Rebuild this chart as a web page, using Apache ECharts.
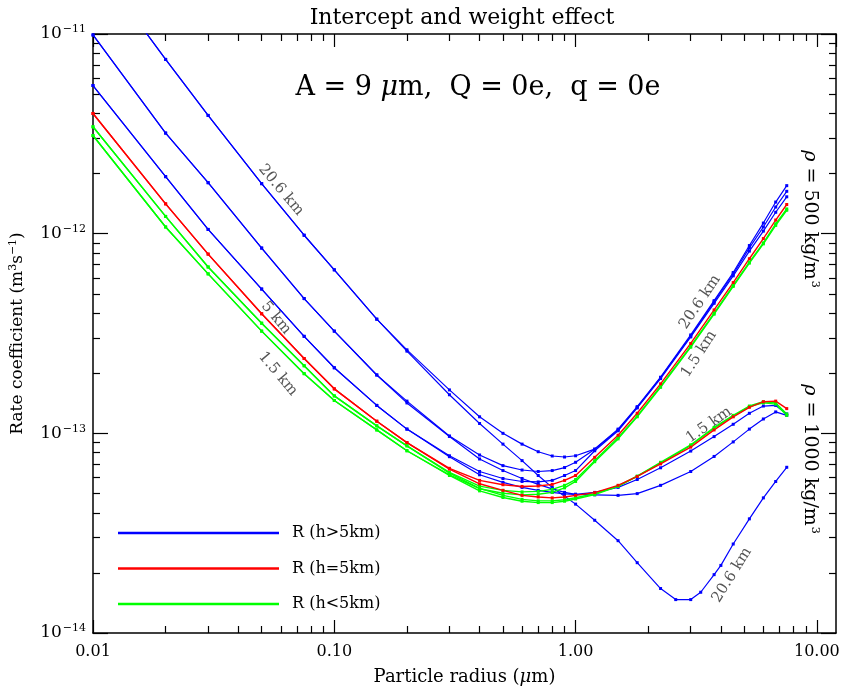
<!DOCTYPE html>
<html><head><meta charset="utf-8">
<script src="https://cdn.jsdelivr.net/npm/echarts@6/dist/echarts.min.js"></script>
<style>html,body{margin:0;padding:0;background:#fff}#c{width:843px;height:691px}</style>
</head><body><div id="c"></div>
<script>
// ---- data ----
const xGrid = [0.01,0.02,0.03,0.05,0.075,0.1,0.15,0.2,0.3,0.4,0.5,0.6,0.7,0.8,0.9,1.0,1.2,1.5,1.8,2.25,3,3.75,4.5,5.25,6,6.75,7.5];
const xGridH206Heavy = [0.01,0.02,0.03,0.05,0.075,0.1,0.15,0.2,0.3,0.4,0.5,0.6,0.7,0.8,0.9,1.0,1.2,1.5,1.8,2.25,2.6,3,3.3,3.75,4.0,4.5,5.25,6,6.75,7.5];

const h206_rho500 = [2.33e-11,7.46e-12,3.91e-12,1.78e-12,9.82e-13,6.59e-13,3.73e-13,2.62e-13,1.65e-13,1.21e-13,1.00e-13,8.83e-14,8.09e-14,7.70e-14,7.61e-14,7.72e-14,8.34e-14,1.05e-13,1.36e-13,1.91e-13,3.11e-13,4.62e-13,6.39e-13,8.72e-13,1.13e-12,1.44e-12,1.74e-12];
const h206_rho1000 = [2.33e-11,7.46e-12,3.91e-12,1.78e-12,9.82e-13,6.59e-13,3.73e-13,2.58e-13,1.56e-13,1.12e-13,8.83e-14,7.30e-14,6.15e-14,5.36e-14,4.84e-14,4.42e-14,3.67e-14,2.90e-14,2.25e-14,1.67e-14,1.47e-14,1.47e-14,1.60e-14,1.96e-14,2.18e-14,2.79e-14,3.73e-14,4.75e-14,5.74e-14,6.76e-14];
const hB2_rho500 = [9.89e-12,3.19e-12,1.80e-12,8.47e-13,4.73e-13,3.25e-13,1.96e-13,1.45e-13,9.70e-14,7.79e-14,6.89e-14,6.55e-14,6.44e-14,6.51e-14,6.74e-14,7.16e-14,8.32e-14,1.04e-13,1.35e-13,1.90e-13,3.07e-13,4.56e-13,6.28e-13,8.49e-13,1.08e-12,1.36e-12,1.63e-12];
const hB2_rho1000 = [9.89e-12,3.19e-12,1.80e-12,8.47e-13,4.73e-13,3.25e-13,1.96e-13,1.42e-13,9.65e-14,7.44e-14,6.51e-14,5.94e-14,5.55e-14,5.27e-14,5.06e-14,4.95e-14,4.92e-14,4.89e-14,4.99e-14,5.49e-14,6.44e-14,7.66e-14,9.06e-14,1.05e-13,1.18e-13,1.28e-13,1.23e-13];
const hB3_rho500 = [5.52e-12,1.93e-12,1.05e-12,5.28e-13,3.06e-13,2.13e-13,1.38e-13,1.05e-13,7.72e-14,6.44e-14,5.94e-14,5.74e-14,5.71e-14,5.81e-14,6.15e-14,6.51e-14,8.18e-14,1.03e-13,1.34e-13,1.88e-13,3.04e-13,4.48e-13,6.15e-13,8.18e-13,1.03e-12,1.28e-12,1.53e-12];
const hB3_rho1000 = [5.52e-12,1.93e-12,1.05e-12,5.28e-13,3.06e-13,2.13e-13,1.38e-13,1.05e-13,7.64e-14,6.20e-14,5.68e-14,5.36e-14,5.18e-14,5.06e-14,4.98e-14,4.95e-14,5.06e-14,5.36e-14,5.87e-14,6.72e-14,8.15e-14,9.63e-14,1.11e-13,1.26e-13,1.37e-13,1.38e-13,1.25e-13];
const h5_rho500 = [4.00e-12,1.41e-12,7.90e-13,3.97e-13,2.37e-13,1.67e-13,1.15e-13,8.99e-14,6.68e-14,5.81e-14,5.53e-14,5.42e-14,5.45e-14,5.55e-14,5.81e-14,6.15e-14,7.58e-14,9.78e-14,1.26e-13,1.77e-13,2.82e-13,4.15e-13,5.69e-13,7.49e-13,9.45e-13,1.17e-12,1.40e-12];
const h5_rho1000 = [4.00e-12,1.41e-12,7.90e-13,3.97e-13,2.37e-13,1.67e-13,1.15e-13,8.99e-14,6.62e-14,5.59e-14,5.18e-14,4.89e-14,4.80e-14,4.75e-14,4.80e-14,4.89e-14,5.05e-14,5.49e-14,6.08e-14,7.03e-14,8.53e-14,1.04e-13,1.21e-13,1.35e-13,1.44e-13,1.45e-13,1.33e-13];
const hG1_rho500 = [3.43e-12,1.22e-12,6.81e-13,3.56e-13,2.18e-13,1.54e-13,1.09e-13,8.66e-14,6.38e-14,5.44e-14,5.18e-14,5.09e-14,5.12e-14,5.24e-14,5.49e-14,5.87e-14,7.30e-14,9.52e-14,1.22e-13,1.72e-13,2.73e-13,4.00e-13,5.50e-13,7.20e-13,8.99e-13,1.12e-12,1.33e-12];
const hG1_rho1000 = [3.43e-12,1.22e-12,6.81e-13,3.56e-13,2.18e-13,1.54e-13,1.09e-13,8.66e-14,6.32e-14,5.30e-14,4.89e-14,4.67e-14,4.59e-14,4.59e-14,4.65e-14,4.76e-14,4.98e-14,5.45e-14,6.11e-14,7.16e-14,8.76e-14,1.07e-13,1.23e-13,1.37e-13,1.44e-13,1.42e-13,1.25e-13];
const h15_rho500 = [3.10e-12,1.08e-12,6.29e-13,3.25e-13,1.99e-13,1.46e-13,1.04e-13,8.18e-14,6.20e-14,5.28e-14,5.01e-14,4.92e-14,4.95e-14,5.06e-14,5.33e-14,5.74e-14,7.21e-14,9.38e-14,1.21e-13,1.70e-13,2.70e-13,3.95e-13,5.44e-13,7.12e-13,8.89e-13,1.10e-12,1.31e-12];
const h15_rho1000 = [3.10e-12,1.08e-12,6.29e-13,3.25e-13,1.99e-13,1.46e-13,1.04e-13,8.18e-14,6.15e-14,5.15e-14,4.77e-14,4.57e-14,4.50e-14,4.50e-14,4.57e-14,4.69e-14,4.93e-14,5.42e-14,6.08e-14,7.09e-14,8.69e-14,1.06e-13,1.22e-13,1.36e-13,1.42e-13,1.40e-13,1.23e-13];

const legendNames = ['R (h>5km)', 'R (h=5km)', 'R (h<5km)'];
const xMinorTicks = [0.02,0.03,0.04,0.05,0.06,0.07,0.08,0.09,0.2,0.3,0.4,0.5,0.6,0.7,0.8,0.9,2,3,4,5,6,7,8,9];
const yMinorTicks = [2e-14,3e-14,4e-14,5e-14,6e-14,7e-14,8e-14,9e-14,2e-13,3e-13,4e-13,5e-13,6e-13,7e-13,8e-13,9e-13,2e-12,3e-12,4e-12,5e-12,6e-12,7e-12,8e-12,9e-12];

// ---- chart ----
const FONT = 'DejaVu Serif';
const BLUE = '#0000ff', RED = '#ff0000', GREEN = '#00ff00';
const chart = echarts.init(document.getElementById('c'), null, {renderer: 'canvas'});

function mk(name, color, xs, ys, w) {
  return {
    type: 'line', name: name, xAxisIndex: 0, yAxisIndex: 0,
    data: xs.map((x, i) => [x, ys[i]]),
    symbol: 'rect', symbolSize: 3, showSymbol: true, showAllSymbol: true,
    lineStyle: {color: color, width: w || 1.2},
    itemStyle: {color: color},
    clip: true, silent: true, animation: false
  };
}

const tickStyle = {color: '#000', width: 1.2};
const lineStyleAx = {color: '#000', width: 1.5};
const baseX = {type: 'log', logBase: 10, min: 0.01, max: 12, splitLine: {show: false}, minorTick: {show: false}};
const baseY = {type: 'log', logBase: 10, min: 1e-14, max: 1e-11, splitLine: {show: false}, minorTick: {show: false}};
const kmStyle = t => ({text: t, fill: '#555', fontFamily: FONT, fontSize: 15, align: 'center', verticalAlign: 'middle'});
const rhoRich = {n: {fontFamily: FONT, fontSize: 19, color: '#000'},
                 i: {fontFamily: FONT, fontSize: 19, fontStyle: 'italic', color: '#000'},
                 s: {fontFamily: FONT, fontSize: 11, color: '#000', padding: [0, 0, 10, 1]}};

const option = {
  animation: false,
  backgroundColor: '#fff',
  grid: {left: 90, right: 7, top: 34, bottom: 52, containLabel: false},
  legend: legendNames.map((n, i) => ({
    data: [n], left: 118, top: 524 + i * 35.5, orient: 'vertical', padding: 0,
    icon: 'rect', itemWidth: 161, itemHeight: 2.5, selectedMode: false,
    textStyle: {fontFamily: FONT, fontSize: 16, color: '#000', lineHeight: 18, padding: [0, 0, 0, 8]}
  })),
  xAxis: [
    Object.assign({}, baseX, {
      position: 'bottom',
      axisLine: {show: true, lineStyle: lineStyleAx},
      axisTick: {show: true, inside: true, length: 13, lineStyle: tickStyle},
      axisLabel: {show: true, showMaxLabel: false, margin: 11, color: '#000', fontFamily: FONT, fontSize: 16,
        formatter: v => Number(v).toFixed(2)},
      name: 'Particle radius ({i|μ}m)', nameLocation: 'middle', nameGap: 35,
      nameTextStyle: {color: '#000', fontFamily: FONT, fontSize: 18,
        rich: {i: {fontFamily: FONT, fontStyle: 'italic', fontSize: 18, color: '#000'}}}
    }),
    Object.assign({}, baseX, {
      position: 'bottom', axisLine: {show: false},
      axisTick: {show: true, inside: true, length: 7, lineStyle: tickStyle, customValues: xMinorTicks},
      axisLabel: {show: false}
    }),
    Object.assign({}, baseX, {
      position: 'top', axisLine: {show: true, lineStyle: lineStyleAx},
      axisTick: {show: true, inside: true, length: 13, lineStyle: tickStyle},
      axisLabel: {show: false}
    }),
    Object.assign({}, baseX, {
      position: 'top', axisLine: {show: false},
      axisTick: {show: true, inside: true, length: 7, lineStyle: tickStyle, customValues: xMinorTicks},
      axisLabel: {show: false}
    })
  ],
  yAxis: [
    Object.assign({}, baseY, {
      position: 'left',
      axisLine: {show: true, lineStyle: lineStyleAx},
      axisTick: {show: true, inside: true, length: 15, lineStyle: tickStyle},
      axisLabel: {show: true, margin: 7, color: '#000',
        formatter: v => '{b|10}{s|−' + Math.round(-Math.log10(v)) + '}',
        rich: {b: {fontFamily: FONT, fontSize: 17, color: '#000'},
               s: {fontFamily: FONT, fontSize: 11, color: '#000', padding: [0, 0, 9, 1]}}},
      name: 'Rate coefficient (m{s|3}s{s|−1})', nameLocation: 'middle', nameGap: 66, nameRotate: 90,
      nameTextStyle: {color: '#000', fontFamily: FONT, fontSize: 17,
        rich: {s: {fontFamily: FONT, fontSize: 11, color: '#000', padding: [0, 0, 8, 0]}}}
    }),
    Object.assign({}, baseY, {
      position: 'left', axisLine: {show: false},
      axisTick: {show: true, inside: true, length: 7, lineStyle: tickStyle, customValues: yMinorTicks},
      axisLabel: {show: false}
    }),
    Object.assign({}, baseY, {
      position: 'right', axisLine: {show: true, lineStyle: lineStyleAx},
      axisTick: {show: true, inside: true, length: 15, lineStyle: tickStyle},
      axisLabel: {show: false}
    }),
    Object.assign({}, baseY, {
      position: 'right', axisLine: {show: false},
      axisTick: {show: true, inside: true, length: 7, lineStyle: tickStyle, customValues: yMinorTicks},
      axisLabel: {show: false}
    })
  ],
  series: [
    mk(legendNames[0], BLUE, xGrid, h206_rho500),
    mk(legendNames[0], BLUE, xGridH206Heavy, h206_rho1000),
    mk(legendNames[0], BLUE, xGrid, hB2_rho500),
    mk(legendNames[0], BLUE, xGrid, hB2_rho1000),
    mk(legendNames[0], BLUE, xGrid, hB3_rho500),
    mk(legendNames[0], BLUE, xGrid, hB3_rho1000),
    mk(legendNames[2], GREEN, xGrid, hG1_rho500, 1.4),
    mk(legendNames[2], GREEN, xGrid, hG1_rho1000, 1.4),
    mk(legendNames[2], GREEN, xGrid, h15_rho500, 1.4),
    mk(legendNames[2], GREEN, xGrid, h15_rho1000, 1.4),
    mk(legendNames[1], RED, xGrid, h5_rho500, 1.4),
    mk(legendNames[1], RED, xGrid, h5_rho1000, 1.4)
  ],
  graphic: [
    {type: 'text', x: 462, y: 18, style: {text: 'Intercept and weight effect', fill: '#000',
      fontFamily: FONT, fontSize: 22, align: 'center', verticalAlign: 'middle'}},
    {type: 'text', x: 478, y: 88, style: {text: '{n|A = 9 }{i|μ}{n|m,  Q = 0e,  q = 0e}',
      align: 'center', verticalAlign: 'middle',
      rich: {n: {fontFamily: FONT, fontSize: 27, color: '#000'},
             i: {fontFamily: FONT, fontSize: 27, fontStyle: 'italic', color: '#000'}}}},
    {type: 'text', x: 281, y: 190, rotation: -50 * Math.PI / 180, style: kmStyle('20.6 km')},
    {type: 'text', x: 276, y: 318, rotation: -50 * Math.PI / 180, style: kmStyle('5 km')},
    {type: 'text', x: 278, y: 374, rotation: -50 * Math.PI / 180, style: kmStyle('1.5 km')},
    {type: 'text', x: 700, y: 302, rotation: 56 * Math.PI / 180, style: kmStyle('20.6 km')},
    {type: 'text', x: 699, y: 354, rotation: 57 * Math.PI / 180, style: kmStyle('1.5 km')},
    {type: 'text', x: 709, y: 425, rotation: 35 * Math.PI / 180, style: kmStyle('1.5 km')},
    {type: 'text', x: 732, y: 575, rotation: 58 * Math.PI / 180, style: kmStyle('20.6 km')},
    {type: 'text', x: 810, y: 219, rotation: -Math.PI / 2,
      style: {text: '{i|ρ}{n| = 500 kg/m}{s|3}', align: 'center', verticalAlign: 'middle', rich: rhoRich}},
    {type: 'text', x: 810, y: 459, rotation: -Math.PI / 2,
      style: {text: '{i|ρ}{n| = 1000 kg/m}{s|3}', align: 'center', verticalAlign: 'middle', rich: rhoRich}}
  ]
};
chart.setOption(option);
</script>
</body></html>
